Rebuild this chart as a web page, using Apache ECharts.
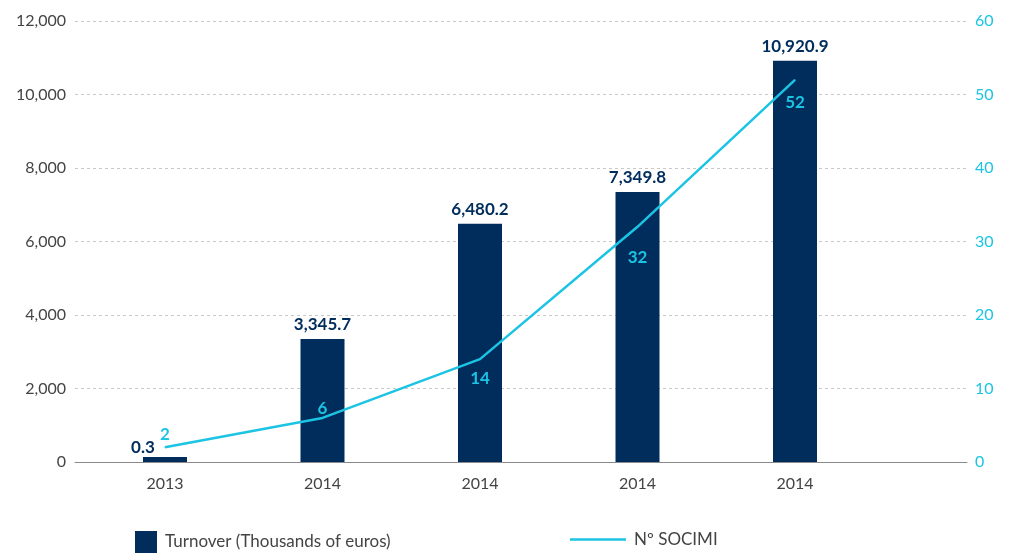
<!DOCTYPE html>
<html>
<head>
<meta charset="utf-8">
<title>Turnover and Nº SOCIMI</title>
<script src="https://cdn.jsdelivr.net/npm/echarts@6/dist/echarts.min.js"></script>
<style>
  html, body { margin: 0; padding: 0; background: #fff; }
  #chart { width: 1015px; height: 554px; }
</style>
</head>
<body>
<div id="chart"></div>
<script>
  // data
  var years = ['2013', '2014', '2014', '2014', '2014'];
  var turnover = [0.3, 3345.7, 6480.2, 7349.8, 10920.9];
  var socimi = [2, 6, 14, 32, 52];
  var socimiLabelPos = ['top', 'top', 'bottom', 'bottom', 'bottom'];
  var socimiLabelDist = [4, 0, 10, 22, 14];

  var navy = '#002D5C';
  var cyan = '#1CC4E4';
  var font = 'Lato, "Open Sans", sans-serif';

  var chart = echarts.init(document.getElementById('chart'));

  function fmt(v) {
    return v.toLocaleString('en-US', { minimumFractionDigits: 1, maximumFractionDigits: 1 });
  }

  var barData = turnover.map(function (v, i) {
    var item = { value: [i, v] };
    if (i === 0) {
      item.label = { offset: [-22, 0], distance: 1 };
    }
    return item;
  });

  var lineData = socimi.map(function (v, i) {
    return {
      value: [i, v],
      label: { position: socimiLabelPos[i], distance: socimiLabelDist[i] }
    };
  });

  chart.setOption({
    animation: false,
    textStyle: { fontFamily: font },
    grid: { left: 75, right: 48, top: 21, bottom: 92 },
    legend: [
      {
        left: 130, top: 526,
        itemWidth: 22, itemHeight: 22, itemGap: 10,
        icon: 'rect',
        data: ['Turnover (Thousands of euros)'],
        textStyle: { color: '#444', fontSize: 17, fontFamily: font, padding: [3, 0, 0, 3] }
      },
      {
        left: 565, top: 526,
        itemWidth: 56, itemHeight: 22,
        data: [{ name: 'Nº SOCIMI', icon: 'path://M0,10 L56,10 L56,12.5 L0,12.5 Z' }],
        textStyle: { color: '#444', fontSize: 17, fontFamily: font, padding: [3, 0, 0, 3] }
      }
    ],
    xAxis: {
      type: 'value',
      min: -0.5714,
      max: 5.092,
      splitLine: { show: false },
      axisLine: { show: true, lineStyle: { color: '#8a8a8a', width: 1 } },
      axisTick: { show: false },
      axisLabel: {
        customValues: [0, 1, 2, 3, 4],
        color: '#444',
        fontSize: 16,
        margin: 14,
        formatter: function (v) { return years[Math.round(v)]; }
      }
    },
    yAxis: [
      {
        type: 'value',
        min: 0, max: 12000, interval: 2000,
        axisLine: { show: false },
        axisTick: { show: false },
        axisLabel: {
          color: '#444', fontSize: 16, margin: 9,
          formatter: function (v) { return v.toLocaleString('en-US'); }
        },
        splitLine: { lineStyle: { color: '#c8c8c8', type: [3, 3], width: 1 } }
      },
      {
        type: 'value',
        min: 0, max: 60, interval: 10,
        axisLine: { show: false },
        axisTick: { show: false },
        axisLabel: { color: cyan, fontSize: 16, margin: 8 },
        splitLine: { show: false }
      }
    ],
    series: [
      {
        name: 'Turnover (Thousands of euros)',
        type: 'bar',
        barWidth: 44,
        barMinHeight: 5,
        itemStyle: { color: navy },
        label: {
          show: true,
          position: 'top',
          distance: 6,
          color: navy,
          fontSize: 17,
          fontWeight: 'bold',
          formatter: function (p) { return fmt(p.value[1]); }
        },
        data: barData
      },
      {
        name: 'Nº SOCIMI',
        type: 'line',
        yAxisIndex: 1,
        symbol: 'circle',
        symbolSize: 1,
        itemStyle: { color: cyan },
        lineStyle: { color: cyan, width: 2.5 },
        label: {
          show: true,
          color: cyan,
          fontSize: 17,
          fontWeight: 'bold',
          formatter: function (p) { return p.value[1]; }
        },
        z: 3,
        data: lineData
      }
    ]
  });
</script>
</body>
</html>
